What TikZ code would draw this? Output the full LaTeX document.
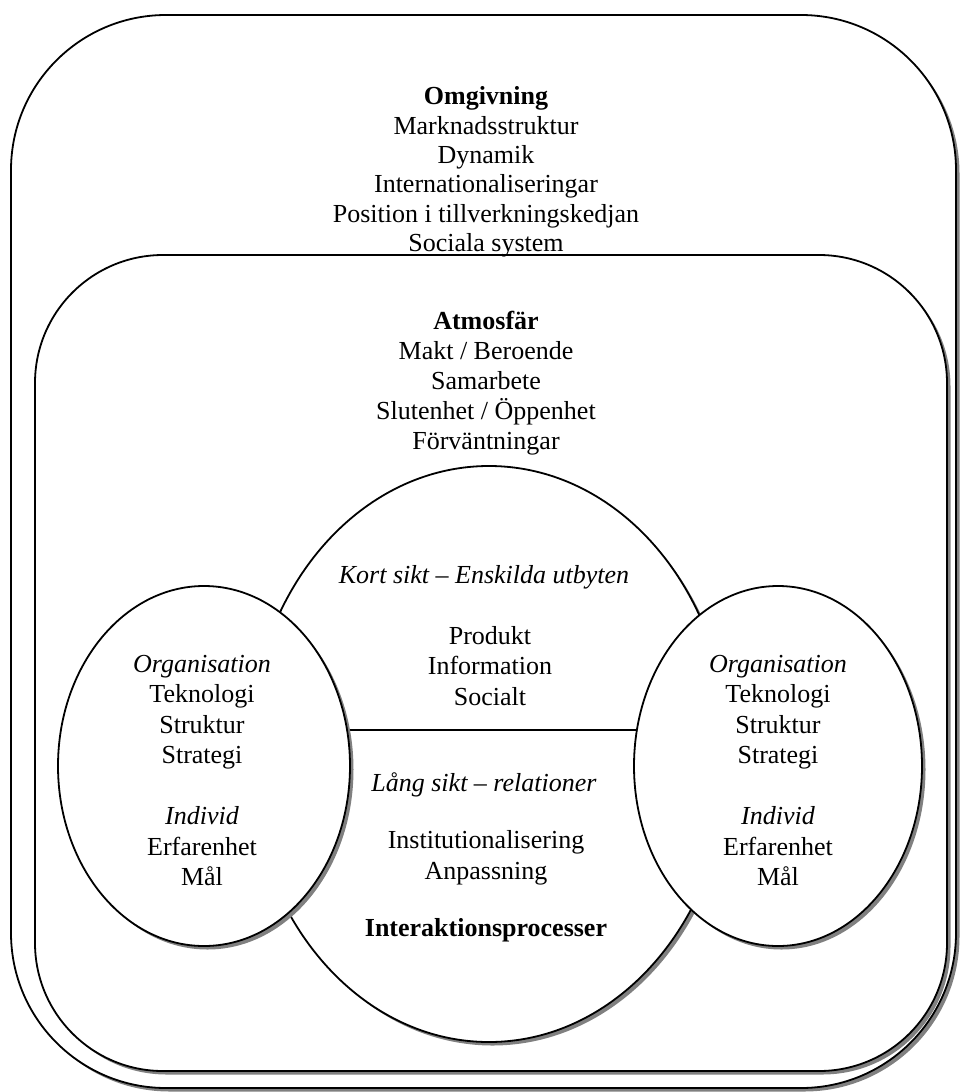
\documentclass[tikz,border=0pt]{standalone}
\usepackage{fontspec}
\setmainfont{Liberation Serif}
\usetikzlibrary{shapes.geometric,shadows}
\tikzset{
  shade/.style={drop shadow={shadow xshift=3.5pt, shadow yshift=-3.5pt, fill=black!50, opacity=1}},
  frame/.style={draw=black, line width=1.8pt, fill=white, shade},
  oval/.style={ellipse, draw=black, line width=1.8pt, fill=white, shade, inner sep=0pt},
  txt/.style={align=center, font=\fontsize{26}{30.5}\selectfont, inner sep=0pt}
}
\begin{document}
\begin{tikzpicture}[x=1pt,y=-1pt]
\useasboundingbox (0,0) rectangle (960,1092);
% outer and inner frames
\path[frame, rounded corners=155pt] (11,15) rectangle (956,1088);
\path[frame, rounded corners=128pt] (35,255) rectangle (947,1071);
% texts of frames
\node[txt, font=\fontsize{26}{29.3}\selectfont] (omg) at (486,172) {\textbf{Omgivning}\\Marknadsstruktur\\Dynamik\\Internationaliseringar\\Position i tillverkningskedjan\\Sociala system};
\node[txt, font=\fontsize{26}{30}\selectfont] (atm) at (486,383) {\textbf{Atmosfär}\\Makt / Beroende\\Samarbete\\Slutenhet / Öppenhet\\Förväntningar};
% central ellipse
\node[oval, minimum width=480pt, minimum height=576pt] (C) at (489,754) {};
\coordinate (lineL) at (300,730);
\coordinate (lineR) at (680,730);
\draw[line width=1.8pt] (lineL) -- (lineR);
\node[txt] (kort) at (484,577) {\textit{Kort sikt – Enskilda utbyten}};
\node[txt] (prod) at (490,666) {Produkt\\Information\\Socialt};
\node[txt] (lang) at (484,785) {\textit{Lång sikt – relationer}};
\node[txt] (inst) at (486,858) {Institutionalisering\\Anpassning};
\node[txt] (inter) at (486,930) {\textbf{Interaktionsprocesser}};
% side ellipses
\node[oval, minimum width=292pt, minimum height=360pt] (L) at (204,766) {};
\node[oval, minimum width=288pt, minimum height=360pt] (R) at (778,766) {};
\node[txt] (Lt) at (202,770.5) {\textit{Organisation}\\Teknologi\\Struktur\\Strategi\\[30.5pt]\textit{Individ}\\Erfarenhet\\Mål};
\node[txt] (Rt) at (778,770.5) {\textit{Organisation}\\Teknologi\\Struktur\\Strategi\\[30.5pt]\textit{Individ}\\Erfarenhet\\Mål};
\end{tikzpicture}
\end{document}
